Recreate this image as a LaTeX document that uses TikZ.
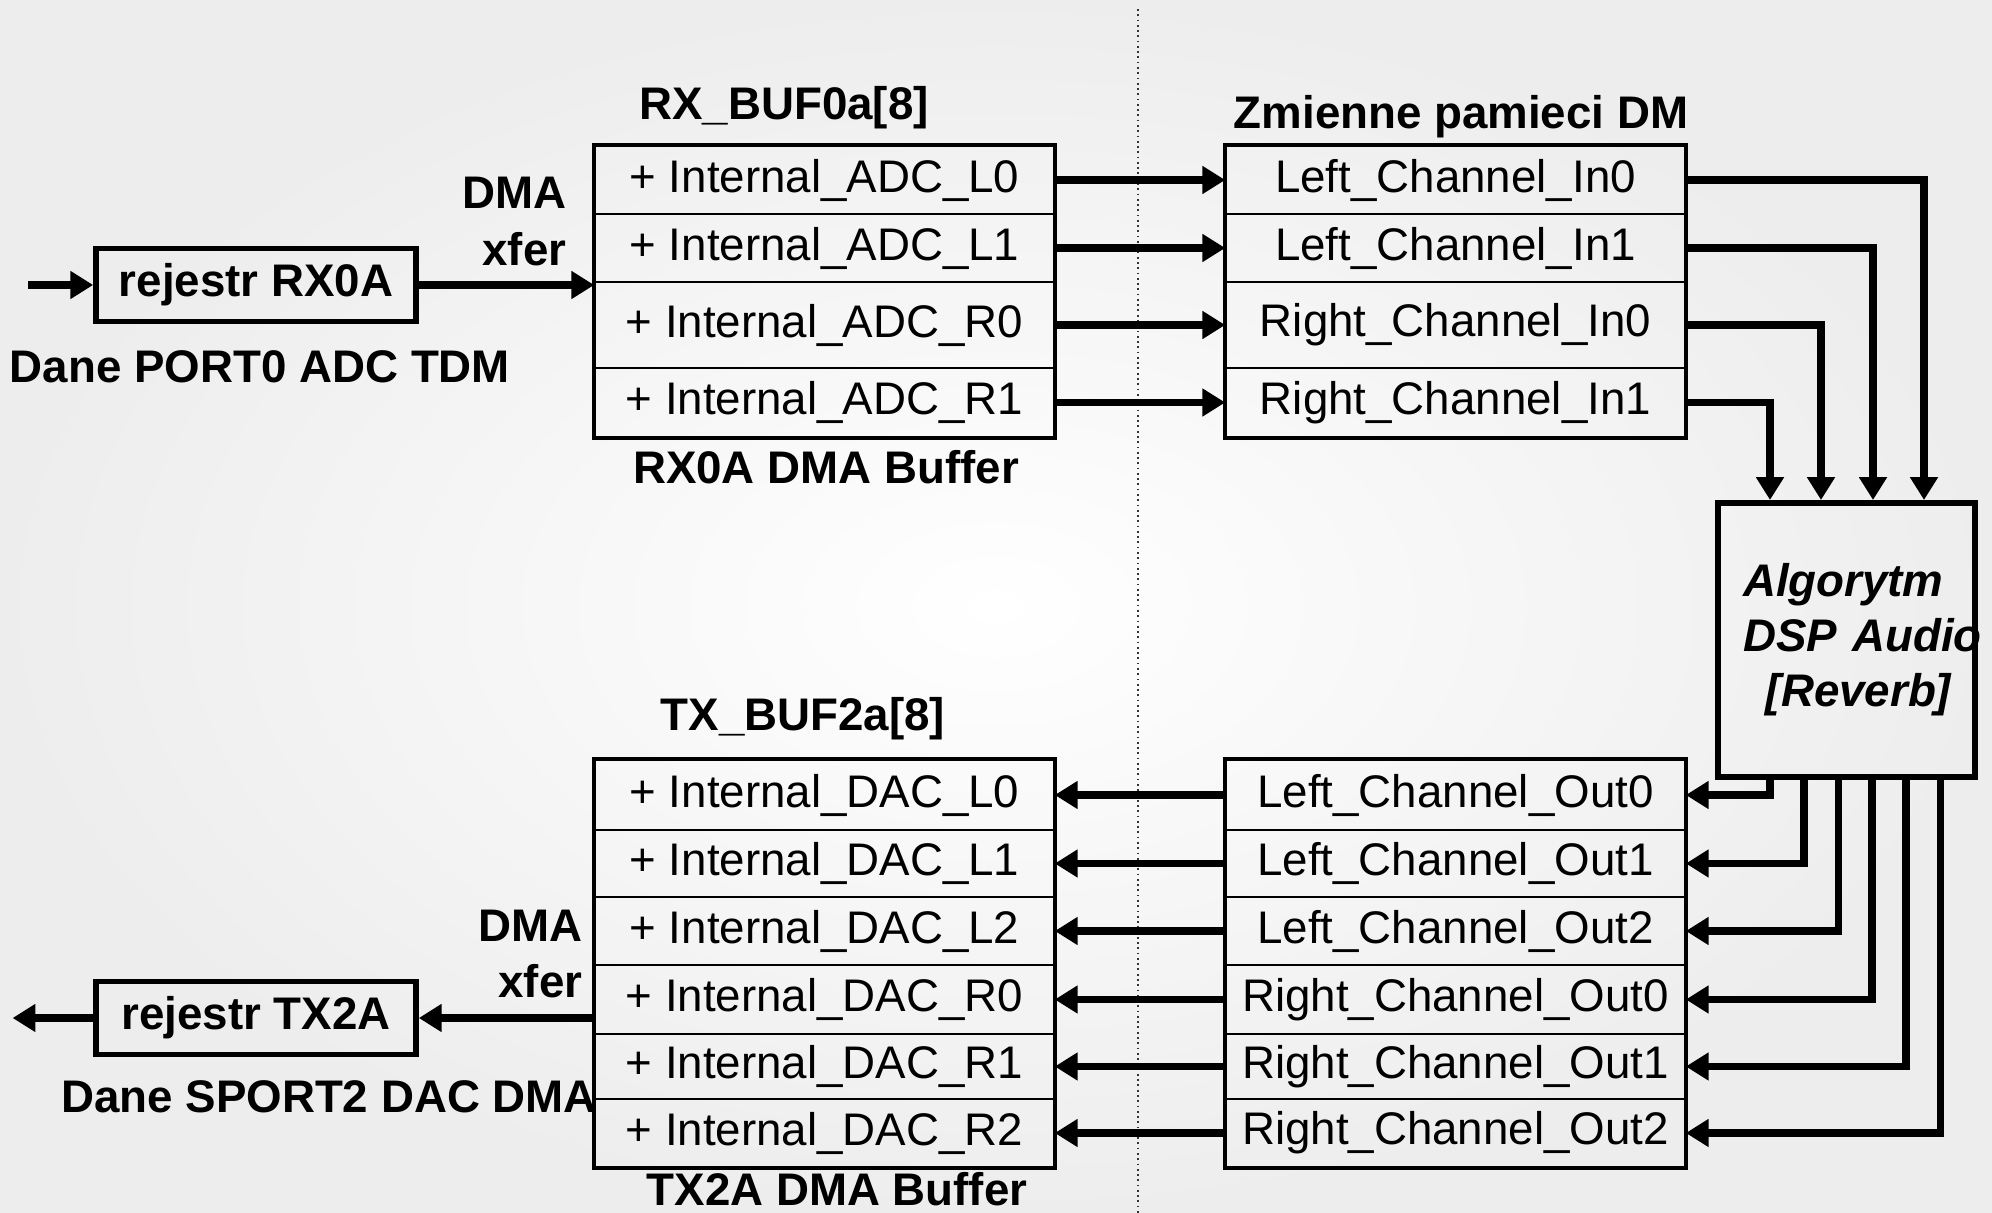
\documentclass[tikz,border=0pt]{standalone}
\usepackage{fontspec}
\setsansfont{Liberation Sans}
\usetikzlibrary{arrows.meta,positioning}

\begin{document}
\begin{tikzpicture}[
  font=\sffamily\fontsize{13}{16}\selectfont,
  cell/.style={draw, line width=0.45pt, minimum width=45.9mm, inner sep=0pt},
  frame/.style={draw, line width=1pt},
  reg/.style={draw, line width=1.6pt, minimum width=32mm, minimum height=7.3mm, font=\sffamily\bfseries\fontsize{13}{16}\selectfont},
  title/.style={font=\sffamily\bfseries\fontsize{13}{16}\selectfont, inner sep=0pt},
  algo/.style={draw, line width=1.7pt, minimum height=27.4mm, text width=20.7mm, align=left, inner xsep=2.5mm, font=\sffamily\bfseries\itshape\fontsize{13}{15.6}\selectfont},
  wire/.style={-{Triangle[length=6.5pt,width=7.6pt]}, line width=2.2pt},
  split/.style={densely dotted, line width=0.5pt, draw=black!80}
]

\useasboundingbox (0,0) rectangle (19.92,-12.13);
\shade[inner color=white, outer color=black!7] (0,0) rectangle (19.92,-12.13);
\draw[split] (11.38,-0.09) -- (11.38,-12.13);

\node[cell, minimum height=6.8mm] (adcL0) at (8.245,-1.80) {+ Internal\_ADC\_L0};
\node[cell, minimum height=6.8mm] (adcL1) at (8.245,-2.48) {+ Internal\_ADC\_L1};
\node[cell, minimum height=8.6mm] (adcR0) at (8.245,-3.25) {+ Internal\_ADC\_R0};
\node[cell, minimum height=6.9mm] (adcR1) at (8.245,-4.025) {+ Internal\_ADC\_R1};
\draw[frame] (adcL0.north west) rectangle (adcR1.south east);

\node[cell, minimum height=6.8mm] (inL0) at (14.555,-1.80) {Left\_Channel\_In0};
\node[cell, minimum height=6.8mm] (inL1) at (14.555,-2.48) {Left\_Channel\_In1};
\node[cell, minimum height=8.6mm] (inR0) at (14.555,-3.25) {Right\_Channel\_In0};
\node[cell, minimum height=6.9mm] (inR1) at (14.555,-4.025) {Right\_Channel\_In1};
\draw[frame] (inL0.north west) rectangle (inR1.south east);

\node[cell, minimum height=7.0mm] (dacL0) at (8.245,-7.95) {+ Internal\_DAC\_L0};
\node[cell, minimum height=6.7mm] (dacL1) at (8.245,-8.635) {+ Internal\_DAC\_L1};
\node[cell, minimum height=6.8mm] (dacL2) at (8.245,-9.31) {+ Internal\_DAC\_L2};
\node[cell, minimum height=6.9mm] (dacR0) at (8.245,-9.995) {+ Internal\_DAC\_R0};
\node[cell, minimum height=6.5mm] (dacR1) at (8.245,-10.665) {+ Internal\_DAC\_R1};
\node[cell, minimum height=6.8mm] (dacR2) at (8.245,-11.33) {+ Internal\_DAC\_R2};
\draw[frame] (dacL0.north west) rectangle (dacR2.south east);

\node[cell, minimum height=7.0mm] (outL0) at (14.555,-7.95) {Left\_Channel\_Out0};
\node[cell, minimum height=6.7mm] (outL1) at (14.555,-8.635) {Left\_Channel\_Out1};
\node[cell, minimum height=6.8mm] (outL2) at (14.555,-9.31) {Left\_Channel\_Out2};
\node[cell, minimum height=6.9mm] (outR0) at (14.555,-9.995) {Right\_Channel\_Out0};
\node[cell, minimum height=6.5mm] (outR1) at (14.555,-10.665) {Right\_Channel\_Out1};
\node[cell, minimum height=6.8mm] (outR2) at (14.555,-11.33) {Right\_Channel\_Out2};
\draw[frame] (outL0.north west) rectangle (outR2.south east);

\node[algo] (dsp) at (18.465,-6.40)
  {\mbox{Algorytm}\\\mbox{DSP Audio}\\\hspace*{0.5em}\mbox{[Reverb]}};

\node[title] (rxname) at (7.84,-1.08) {RX\_BUF0a[8]};
\node[title] (rxbuf) at (8.26,-4.667) {RX0A DMA Buffer};
\node[title] (dmname) at (14.61,-1.17) {Zmienne pamieci DM};
\node[title] (txname) at (8.03,-7.19) {TX\_BUF2a[8]};
\node[title] (txbuf) at (8.37,-11.89) {TX2A DMA Buffer};
\node[title, align=right, anchor=east] (rxdma) at (5.67,-2.215) {DMA\\xfer};
\node[title, align=right, anchor=east] (txdma) at (5.83,-9.54) {DMA\\xfer};
\node[title] (portin) at (2.60,-3.667) {Dane PORT0 ADC TDM};
\node[title] (portout) at (3.29,-10.967) {Dane SPORT2 DAC DMA};

\node[reg] (rxreg) at (2.56,-2.85) {rejestr RX0A};
\node[reg] (txreg) at (2.56,-10.18) {rejestr TX2A};
\coordinate (src) at (0.28,-2.85);
\coordinate (sink) at (0.126,-10.18);

\draw[wire] (src) -- (rxreg);
\draw[wire] (rxreg) -- (rxreg -| adcL1.west);

\draw[wire] (adcL0) -- (inL0);
\draw[wire] (adcL1) -- (inL1);
\draw[wire] (adcR0) -- (inR0);
\draw[wire] (adcR1) -- (inR1);

\draw[wire] (inL0.east) -| ([xshift=7.75mm]dsp.north);
\draw[wire] (inL1.east) -| ([xshift=2.65mm]dsp.north);
\draw[wire] (inR0.east) -| ([xshift=-2.55mm]dsp.north);
\draw[wire] (inR1.east) -| ([xshift=-7.65mm]dsp.north);

\draw[wire] ([xshift=-7.65mm]dsp.south) |- (outL0.east);
\draw[wire] ([xshift=-4.25mm]dsp.south) |- (outL1.east);
\draw[wire] ([xshift=-0.8mm]dsp.south) |- (outL2.east);
\draw[wire] ([xshift=2.55mm]dsp.south) |- (outR0.east);
\draw[wire] ([xshift=5.95mm]dsp.south) |- (outR1.east);
\draw[wire] ([xshift=9.4mm]dsp.south) |- (outR2.east);

\draw[wire] (outL0) -- (dacL0);
\draw[wire] (outL1) -- (dacL1);
\draw[wire] (outL2) -- (dacL2);
\draw[wire] (outR0) -- (dacR0);
\draw[wire] (outR1) -- (dacR1);
\draw[wire] (outR2) -- (dacR2);

\draw[wire] (txreg -| dacR0.west) -- (txreg);
\draw[wire] (txreg) -- (sink);

\end{tikzpicture}
\end{document}
